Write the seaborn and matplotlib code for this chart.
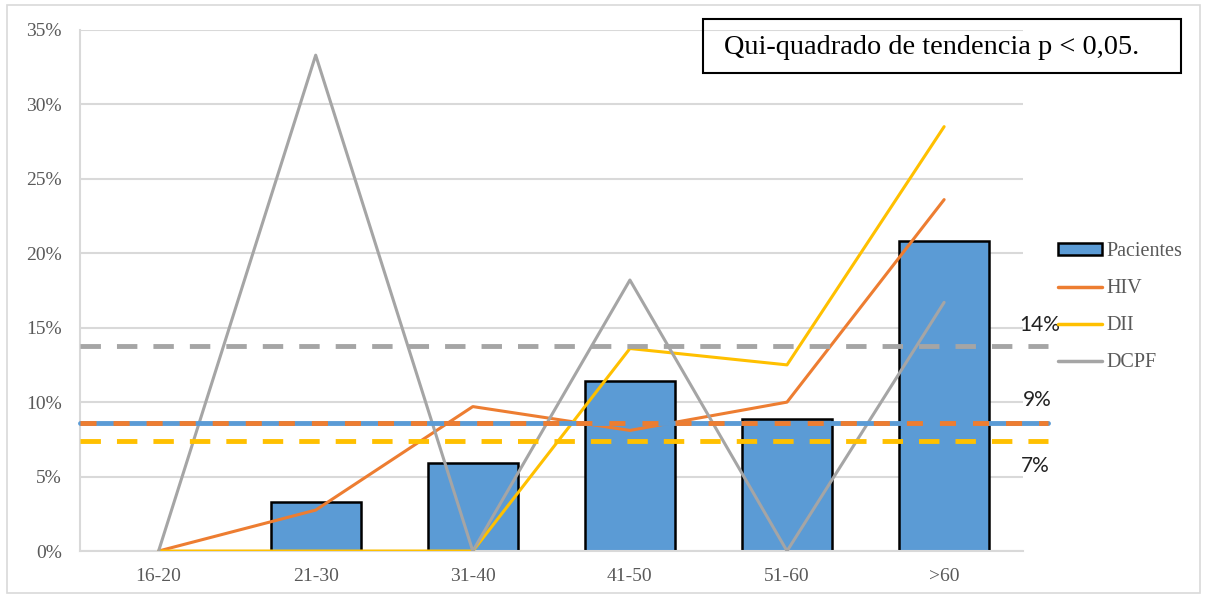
import numpy as np
import pandas as pd
import matplotlib
matplotlib.use("Agg")
import matplotlib.pyplot as plt
import seaborn as sns
from matplotlib.patches import Rectangle
from matplotlib.lines import Line2D
from matplotlib.patches import Patch

# Data (fractions)
age_groups = ['16-20', '21-30', '31-40', '41-50', '51-60', '>60']
pacientes = [0.0, 0.033, 0.059, 0.114, 0.089, 0.208]
hiv = [0.0, 0.0275, 0.097, 0.081, 0.100, 0.236]
dii = [0.0, 0.0, 0.0, 0.136, 0.125, 0.285]
dcpf = [0.0, 0.333, 0.0, 0.182, 0.0, 0.167]

# overall means (dashed reference lines)
mean_pac = 0.086
mean_hiv = 0.086
mean_dii = 0.074
mean_dcpf = 0.138
mean_labels = ['14%', '9%', '7%']

c_bar = '#5B9BD5'
c_hiv = '#ED7D31'
c_dii = '#FFC000'
c_dcpf = '#A5A5A5'
c_text = '#595959'
c_grid = '#D9D9D9'

sns.set_style("white")
plt.rcParams['font.family'] = ['Liberation Serif', 'DejaVu Serif']

fig = plt.figure(figsize=(12.07, 5.97), dpi=100)
ax = fig.add_axes([0.0663, 0.077, 0.781, 0.873])

df = pd.DataFrame({'grupo': age_groups, 'Pacientes': pacientes})
sns.barplot(data=df, x='grupo', y='Pacientes', color=c_bar, width=0.575,
            edgecolor='black', linewidth=1.8, saturation=1, ax=ax, zorder=2)

for vals, col in [(hiv, c_hiv), (dii, c_dii), (dcpf, c_dcpf)]:
    sns.lineplot(x=age_groups, y=vals, color=col, linewidth=2.2, sort=False,
                 ax=ax, zorder=3)

# dashed mean lines, extending a bit past the plot area
ax.axhline(mean_pac, xmin=0, xmax=1.027, color=c_bar, lw=3.5, clip_on=False, zorder=4)
ax.axhline(mean_hiv, xmin=0, xmax=1.027, color=c_hiv, lw=3.5, dashes=(3.3, 3.5),
           clip_on=False, zorder=5)
ax.axhline(mean_dii, xmin=0, xmax=1.027, color=c_dii, lw=3.5, dashes=(4.2, 3.3),
           clip_on=False, zorder=4)
ax.axhline(mean_dcpf, xmin=0, xmax=1.027, color=c_dcpf, lw=3.5, dashes=(4.2, 3.3),
           clip_on=False, zorder=4)

ax.set_xlim(-0.5, 5.5)
ax.set_ylim(0, 0.35)
ax.set_yticks(np.arange(0, 0.36, 0.05))
ax.set_yticklabels([f'{int(round(v * 100))}%' for v in np.arange(0, 0.36, 0.05)])
ax.yaxis.grid(True, color=c_grid, lw=1.5, zorder=0)
ax.set_axisbelow(True)
ax.set_xlabel('')
ax.set_ylabel('')
for s in ['top', 'right']:
    ax.spines[s].set_visible(False)
for s in ['left', 'bottom']:
    ax.spines[s].set_color(c_grid)
    ax.spines[s].set_linewidth(1.5)
ax.tick_params(axis='both', length=0, labelsize=14, labelcolor=c_text)
ax.tick_params(axis='x', pad=12)
ax.tick_params(axis='y', pad=13)

# legend
handles = [Patch(facecolor=c_bar, edgecolor='black', linewidth=1.8),
           Line2D([], [], color=c_hiv, lw=2.5),
           Line2D([], [], color=c_dii, lw=2.5),
           Line2D([], [], color=c_dcpf, lw=2.5)]
leg = fig.legend(handles, ['Pacientes', 'HIV', 'DII', 'DCPF'], loc='upper left',
                 bbox_to_anchor=(0.8614, 0.625), frameon=False, fontsize=14.5,
                 labelcolor=c_text, handlelength=2.2, handleheight=0.5,
                 labelspacing=0.9, handletextpad=0.2)

# percent labels on right
for lab, (xx, yy) in zip(mean_labels, [(1040, 325), (1037, 400), (1035, 466)]):
    fig.text(xx / 1207, 1 - yy / 597, lab, ha='center', va='center', fontsize=15,
             family=['Lato', 'DejaVu Sans'], color='#222222')

# annotation box
fig.patches.append(Rectangle((703 / 1207, 1 - 73 / 597), 478 / 1207, 54 / 597,
                             transform=fig.transFigure, fill=False,
                             edgecolor='black', lw=1.5))
fig.text(932 / 1207, 1 - 48 / 597, 'Qui-quadrado de tendencia p < 0,05.',
         ha='center', va='center', fontsize=20.4, color='black')

# outer chart border
fig.patches.append(Rectangle((7 / 1207, 4 / 597), 1193 / 1207, 588 / 597,
                             transform=fig.transFigure, fill=False,
                             edgecolor=c_grid, lw=1.2))

fig.savefig('out.png', dpi=100)
